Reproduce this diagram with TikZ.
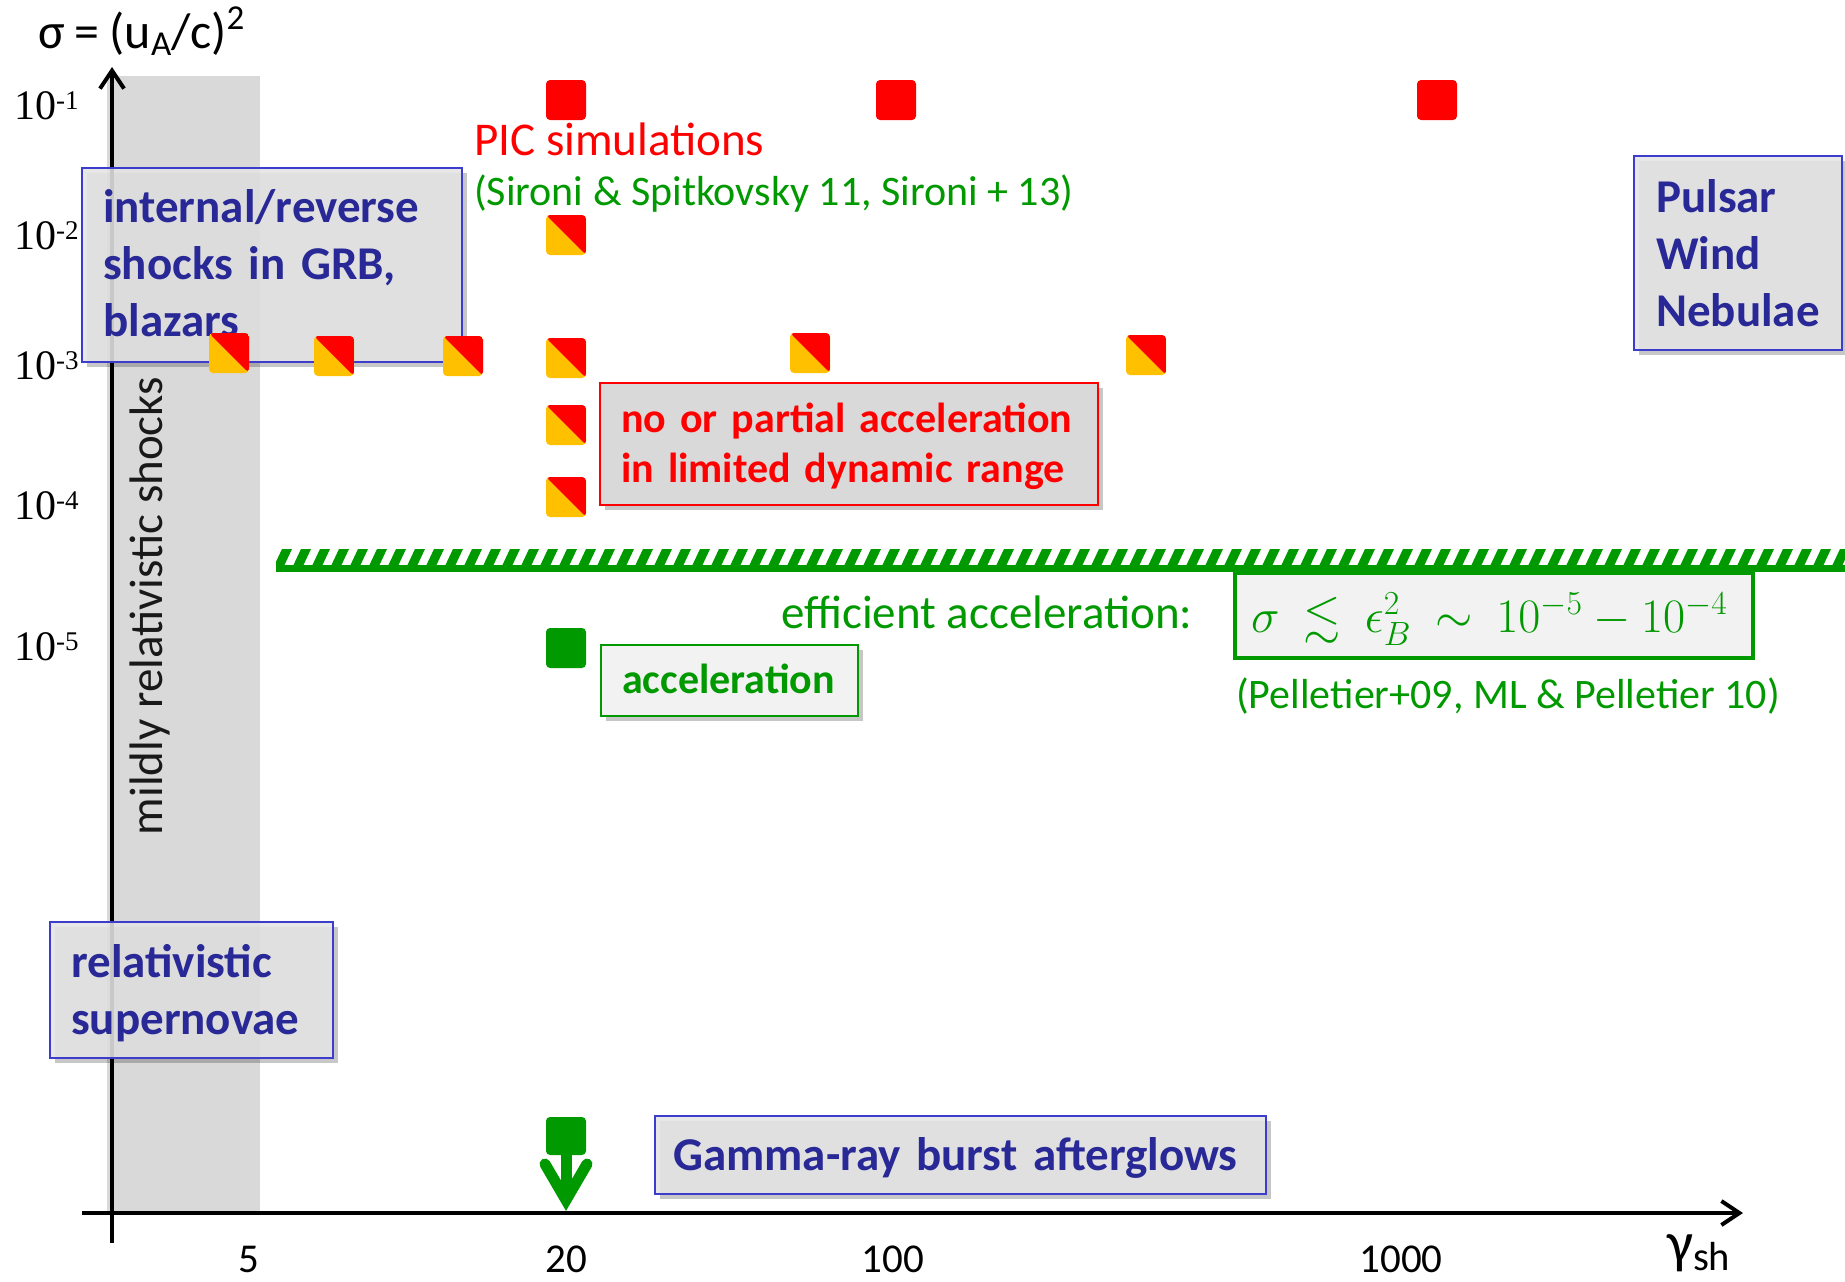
\RequirePackage{fix-cm}
\documentclass[tikz,border=0pt]{standalone}
\usepackage{amsmath,amssymb}
\usepackage{fontspec}
\setmainfont{Carlito}
\newfontfamily\tickfont{Liberation Serif}
\usetikzlibrary{arrows.meta,shadows}
\definecolor{tblue}{RGB}{40,40,150}
\definecolor{bborder}{RGB}{60,60,205}
\definecolor{cgreen}{RGB}{0,153,0}
\definecolor{cred}{RGB}{255,0,0}
\definecolor{corange}{RGB}{255,192,0}
\definecolor{bandgrey}{RGB}{217,217,217}
\definecolor{boxgrey}{RGB}{228,228,228}
\definecolor{lightbox}{RGB}{242,242,242}
\definecolor{darkgrey}{RGB}{25,25,25}
\newcommand\tenpow[1]{10\raisebox{10pt}{\fontsize{27}{27}\selectfont #1}}
\begin{document}
\begin{tikzpicture}[x=1pt,y=-1pt,
  axisline/.style={line width=4pt, black, -{Straight Barb[length=18pt,width=24pt]}},
  boxbase/.style={shape=rectangle, inner sep=0pt, drop shadow={shadow xshift=5pt, shadow yshift=-5pt, opacity=0.22, fill=black}},
  bluebox/.style={boxbase, draw=bborder, line width=2.5pt, fill=boxgrey, fill opacity=0.88},
  redbox/.style={boxbase, draw=cred, line width=2.5pt, fill=bandgrey},
  greenbox/.style={boxbase, draw=cgreen, line width=2.5pt, fill=lightbox},
  formbox/.style={shape=rectangle, inner sep=0pt, draw=cgreen, line width=3.5pt, fill=lightbox},
  bluetext/.style={anchor=base west, inner sep=0pt, text=tblue, font=\fontsize{47}{57}\selectfont\bfseries, align=left, text width=700pt},
  plaintext/.style={anchor=base west, inner sep=0pt},
  ticky/.style={anchor=base west, inner sep=0pt, font=\tickfont\fontsize{42}{42}\selectfont},
  tickx/.style={anchor=base, inner sep=0pt, font=\fontsize{41}{41}\selectfont},
  sqbase/.style={shape=rectangle, minimum size=40pt, inner sep=0pt, rounded corners=4pt},
  redsq/.style={sqbase, fill=cred},
  greensq/.style={sqbase, fill=cgreen},
  halfsq/.style={sqbase, fill=corange, path picture={\fill[cred] (path picture bounding box.north west) -- (path picture bounding box.north east) -- (path picture bounding box.south east) -- cycle;}}
]
\fill[white] (0,0) rectangle (1845,1282);
\useasboundingbox (0,0) rectangle (1845,1282);

% grey band
\fill[bandgrey] (107,76) rectangle (260,1213);
\node[anchor=base, rotate=90, inner sep=0pt, text=darkgrey, font=\fontsize{47}{47}\selectfont] (mild) at (162,606) {mildly relativistic shocks};

% axes
\coordinate (yb) at (112,1243);
\coordinate (yt) at (112,67);
\coordinate (xl) at (82,1213);
\coordinate (xr) at (1743,1213);
\draw[axisline] (yb) -- (yt);
\draw[axisline] (xl) -- (xr);

% axis labels
\node[plaintext, font=\fontsize{50}{50}\selectfont] (ylab) at (38,48) {σ\hspace{10pt}=\hspace{10pt}(u\textsubscript{A}/c)\textsuperscript{2}};
\node[plaintext, font=\fontsize{58}{58}\selectfont] (xlab) at (1667,1262) {γ\textsubscript{sh}};
\node[ticky] (t1) at (14,119) {\tenpow{-1}};
\node[ticky] (t2) at (14,249) {\tenpow{-2}};
\node[ticky] (t3) at (14,379) {\tenpow{-3}};
\node[ticky] (t4) at (14,519) {\tenpow{-4}};
\node[ticky] (t5) at (14,660) {\tenpow{-5}};
\node[tickx] (x5) at (249,1272) {5};
\node[tickx] (x20) at (566,1272) {20};
\node[tickx] (x100) at (893,1272) {100};
\node[tickx] (x1000) at (1401,1272) {1000};

% hatched limit line
\begin{scope}
\clip (276,549) rectangle (1845,566);
\foreach \i in {0,...,84} {
  \fill[cgreen] ({274+19*\i},566) -- ({284+19*\i},566) -- ({292+19*\i},549) -- ({282+19*\i},549) -- cycle;
}
\end{scope}
\fill[cgreen] (276,565) rectangle (1845,572);

% blue boxes
\node[bluebox, minimum width=380pt, minimum height=194pt] (irbox) at (272,265) {};
\node[bluebox, minimum width=208pt, minimum height=194pt] (pwnbox) at (1738,253) {};
\node[bluebox, minimum width=283pt, minimum height=136pt] (rsbox) at (191.5,990) {};
\node[bluebox, minimum width=611pt, minimum height=78pt] (grbbox) at (960.5,1155) {};
\node[bluetext] (irtext) at (103,222) {internal/reverse\\shocks in GRB,\\blazars};
\node[bluetext] (pwntext) at (1656,212) {Pulsar\\Wind\\Nebulae};
\node[bluetext] (rstext) at (71,977) {relativistic\\supernovae};
\node[bluetext] (grbtext) at (673,1170) {Gamma-ray burst afterglows};

% red / orange squares
\node[redsq] (r1) at (566,100) {};
\node[redsq] (r2) at (896,100) {};
\node[redsq] (r3) at (1437,100) {};
\node[halfsq] (h1) at (229,353) {};
\node[halfsq] (h2) at (334,356) {};
\node[halfsq] (h3) at (463,356) {};
\node[halfsq] (h4) at (566,358) {};
\node[halfsq] (h5) at (810,353) {};
\node[halfsq] (h6) at (1146,355) {};
\node[halfsq] (h7) at (566,235) {};
\node[halfsq] (h8) at (566,425) {};
\node[halfsq] (h9) at (566,497) {};

% PIC texts
\node[plaintext, text=cred, font=\fontsize{47}{47}\selectfont] (pic) at (474,155) {PIC simulations};
\node[plaintext, text=cgreen, font=\fontsize{42}{42}\selectfont] (sironi) at (474,205) {(Sironi \& Spitkovsky 11, Sironi + 13)};

% no or partial acceleration box
\node[redbox, minimum width=498pt, minimum height=122pt] (nobox) at (849,444) {};
\node[plaintext, text=cred, font=\fontsize{42}{50}\selectfont\bfseries, align=left, text width=600pt] (notext) at (621,432) {no or partial acceleration\\in limited dynamic range};

% efficient acceleration
\node[plaintext, text=cgreen, font=\fontsize{47}{47}\selectfont] (eff) at (781,628) {efficient acceleration:};
\node[formbox, minimum width=518pt, minimum height=85pt] (fbox) at (1494,615.5) {};
\node[plaintext, text=cgreen, font=\fontsize{48}{56}\selectfont] (ftext) at (1251,632) {$\sigma\:\lesssim\:\epsilon_B^2\:\sim\:10^{-5}-10^{-4}$};
\node[plaintext, text=cgreen, font=\fontsize{42}{42}\selectfont] (pell) at (1236,708) {(Pelletier+09, ML \& Pelletier 10)};

% acceleration
\node[greensq] (g1) at (566,648) {};
\node[greenbox, minimum width=257pt, minimum height=71pt] (accbox) at (729.5,680.5) {};
\node[plaintext, text=cgreen, font=\fontsize{42}{42}\selectfont\bfseries] (acctext) at (622,693) {acceleration};

% GRB afterglow point with down arrow
\node[greensq, minimum height=38pt] (g2) at (566,1136) {};
\coordinate (arrv) at (566,1200);
\coordinate (arrl) at (545,1164);
\coordinate (arrr) at (587,1164);
\draw[cgreen, line width=11pt] (g2.south) -- (arrv);
\draw[cgreen, line width=11pt, line cap=round, line join=miter] (arrl) -- (arrv) -- (arrr);
\end{tikzpicture}
\end{document}
